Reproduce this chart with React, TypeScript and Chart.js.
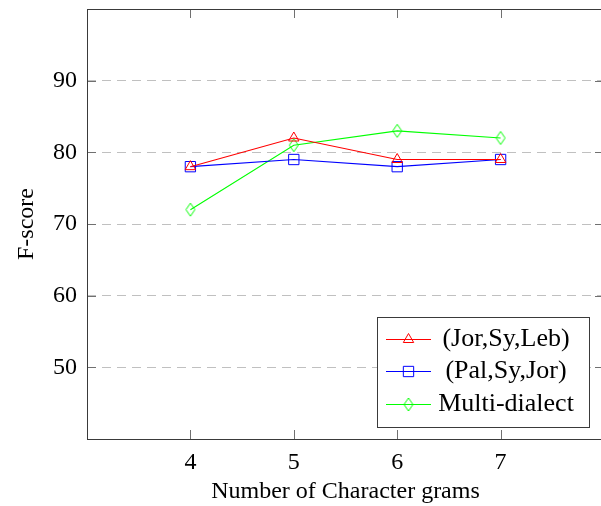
import { useEffect, useRef } from 'react';
import { Chart, registerables } from 'chart.js';
import { drawPoint } from 'chart.js/helpers';

Chart.register(...registerables);

const ngrams = [4, 5, 6, 7];
const jorSyLeb = [78, 82, 79, 79];
const palSyJor = [78, 79, 78, 79];
const multiDialect = [72, 81, 83, 82];
const yTickValues = [50, 60, 70, 80, 90];
const xTickValues = [4, 5, 6, 7];
const seriesLabels = ['(Jor,Sy,Leb)', '(Pal,Sy,Jor)', 'Multi-dialect'];
const xTitle = 'Number of Character grams';
const yTitle = 'F-score';

const FONT = "'Liberation Serif', 'Times New Roman', serif";

function makeDiamond(color: string) {
  const c = document.createElement('canvas');
  c.width = 12;
  c.height = 15;
  const g = c.getContext('2d')!;
  g.strokeStyle = color;
  g.lineWidth = 1;
  g.beginPath();
  g.moveTo(6, 1);
  g.lineTo(10.5, 7.5);
  g.lineTo(6, 14);
  g.lineTo(1.5, 7.5);
  g.closePath();
  g.stroke();
  return c;
}

const boxPlugin = {
  id: 'boxPlugin',
  afterDraw(chart: any) {
    const { ctx, chartArea: a, scales } = chart;
    ctx.save();
    ctx.strokeStyle = '#707070';
    ctx.lineWidth = 1;
    const tl = 9;
    ctx.beginPath();
    for (const v of xTickValues) {
      const px = Math.round(scales.x.getPixelForValue(v)) + 0.5;
      ctx.moveTo(px, a.bottom);
      ctx.lineTo(px, a.bottom - tl);
      ctx.moveTo(px, a.top);
      ctx.lineTo(px, a.top + tl);
    }
    for (const v of yTickValues) {
      const py = Math.round(scales.y.getPixelForValue(v)) + 0.5;
      ctx.moveTo(a.left, py);
      ctx.lineTo(a.left + tl, py);
      ctx.moveTo(a.right, py);
      ctx.lineTo(a.right - tl, py);
    }
    ctx.stroke();
    ctx.strokeStyle = '#3a3a3a';
    ctx.strokeRect(Math.round(a.left) + 0.5, Math.round(a.top) + 0.5, Math.round(a.right - a.left), Math.round(a.bottom - a.top));

    // legend
    const bx = 377.5, by = 317.5, bw = 212, bh = 110;
    ctx.fillStyle = '#ffffff';
    ctx.fillRect(bx, by, bw, bh);
    ctx.strokeStyle = '#3a3a3a';
    ctx.strokeRect(bx, by, bw, bh);
    const rows = [339, 371, 404];
    chart.data.datasets.forEach((ds: any, i: number) => {
      const y = rows[i];
      ctx.strokeStyle = ds.borderColor;
      ctx.lineWidth = ds.borderWidth;
      ctx.beginPath();
      ctx.moveTo(386, y + 0.5);
      ctx.lineTo(431, y + 0.5);
      ctx.stroke();
      ctx.strokeStyle = ds.pointBorderColor;
      ctx.fillStyle = 'rgba(0,0,0,0)';
      ctx.lineWidth = ds.pointBorderWidth;
      drawPoint(ctx, {
        pointStyle: ds.pointStyle,
        radius: ds.pointRadius,
        borderWidth: ds.pointBorderWidth,
        rotation: 0,
      } as any, 408.5, y + 0.5);
      ctx.fillStyle = '#000';
      ctx.font = `26px ${FONT}`;
      ctx.textAlign = 'center';
      ctx.textBaseline = 'middle';
      ctx.fillText(ds.label, 506, y);
    });
    ctx.restore();
  },
};

export default function App() {
  const ref = useRef<HTMLCanvasElement>(null);
  useEffect(() => {
    const diamond = makeDiamond('#00ff00');
    const mk = (vals: number[]) => ngrams.map((x, i) => ({ x, y: vals[i] }));
    const chart = new Chart(ref.current!, {
      type: 'line',
      data: {
        datasets: [
          {
            label: seriesLabels[0],
            data: mk(jorSyLeb),
            borderColor: '#ff0000',
            borderWidth: 1.1,
            pointStyle: 'triangle',
            pointRadius: 6,
            pointBorderColor: '#ff0000',
            pointBackgroundColor: 'rgba(0,0,0,0)',
            pointBorderWidth: 1,
          },
          {
            label: seriesLabels[1],
            data: mk(palSyJor),
            borderColor: '#0000ff',
            borderWidth: 1.1,
            pointStyle: 'rect',
            pointRadius: 7.3,
            pointBorderColor: '#0000ff',
            pointBackgroundColor: 'rgba(0,0,0,0)',
            pointBorderWidth: 1,
          },
          {
            label: seriesLabels[2],
            data: mk(multiDialect),
            borderColor: '#00ff00',
            borderWidth: 1.1,
            pointStyle: diamond as any,
            pointRadius: 6,
            pointBorderColor: '#00ff00',
            pointBackgroundColor: 'rgba(0,0,0,0)',
            pointBorderWidth: 1,
          },
        ] as any,
      },
      options: {
        animation: false,
        responsive: false,
        maintainAspectRatio: false,
        devicePixelRatio: 1,
        layout: { autoPadding: false, padding: { top: 9, left: 0, right: 0, bottom: 0 } },
        plugins: { legend: { display: false }, tooltip: { enabled: false } },
        font: { family: FONT } as any,
        scales: {
          x: {
            type: 'linear',
            min: 3,
            max: 8,
            afterBuildTicks: (s: any) => { s.ticks = xTickValues.map((v) => ({ value: v })); },
            afterFit: (s: any) => { s.height = 67; s.paddingLeft = 0; s.paddingRight = 0; },
            grid: { display: false },
            border: { display: false },
            ticks: { color: '#000', font: { family: FONT, size: 24 }, padding: 1, maxRotation: 0 },
            title: { display: true, text: xTitle, color: '#000', font: { family: FONT, size: 24 }, padding: { top: 0, bottom: 0 } },
          },
          y: {
            type: 'linear',
            min: 40,
            max: 100,
            afterBuildTicks: (s: any) => { s.ticks = yTickValues.map((v) => ({ value: v })); },
            afterFit: (s: any) => { s.width = 87; s.paddingTop = 0; s.paddingBottom = 0; },
            grid: { color: '#c0c0c0', lineWidth: 1, drawTicks: false },
            border: { display: false, dash: [9, 6] },
            ticks: { color: '#000', font: { family: FONT, size: 24 }, padding: 10 },
            title: { display: true, text: yTitle, color: '#000', font: { family: FONT, size: 24 }, padding: { top: 12, bottom: 0 } },
          },
        },
      } as any,
      plugins: [boxPlugin],
    });
    return () => chart.destroy();
  }, []);
  return (
    <div style={{ position: 'fixed', left: 0, top: 0, width: 601, height: 506, overflow: 'hidden', background: '#fff' }}>
      <canvas ref={ref} width={604} height={506} style={{ display: 'block', width: 604, height: 506 }} />
    </div>
  );
}
